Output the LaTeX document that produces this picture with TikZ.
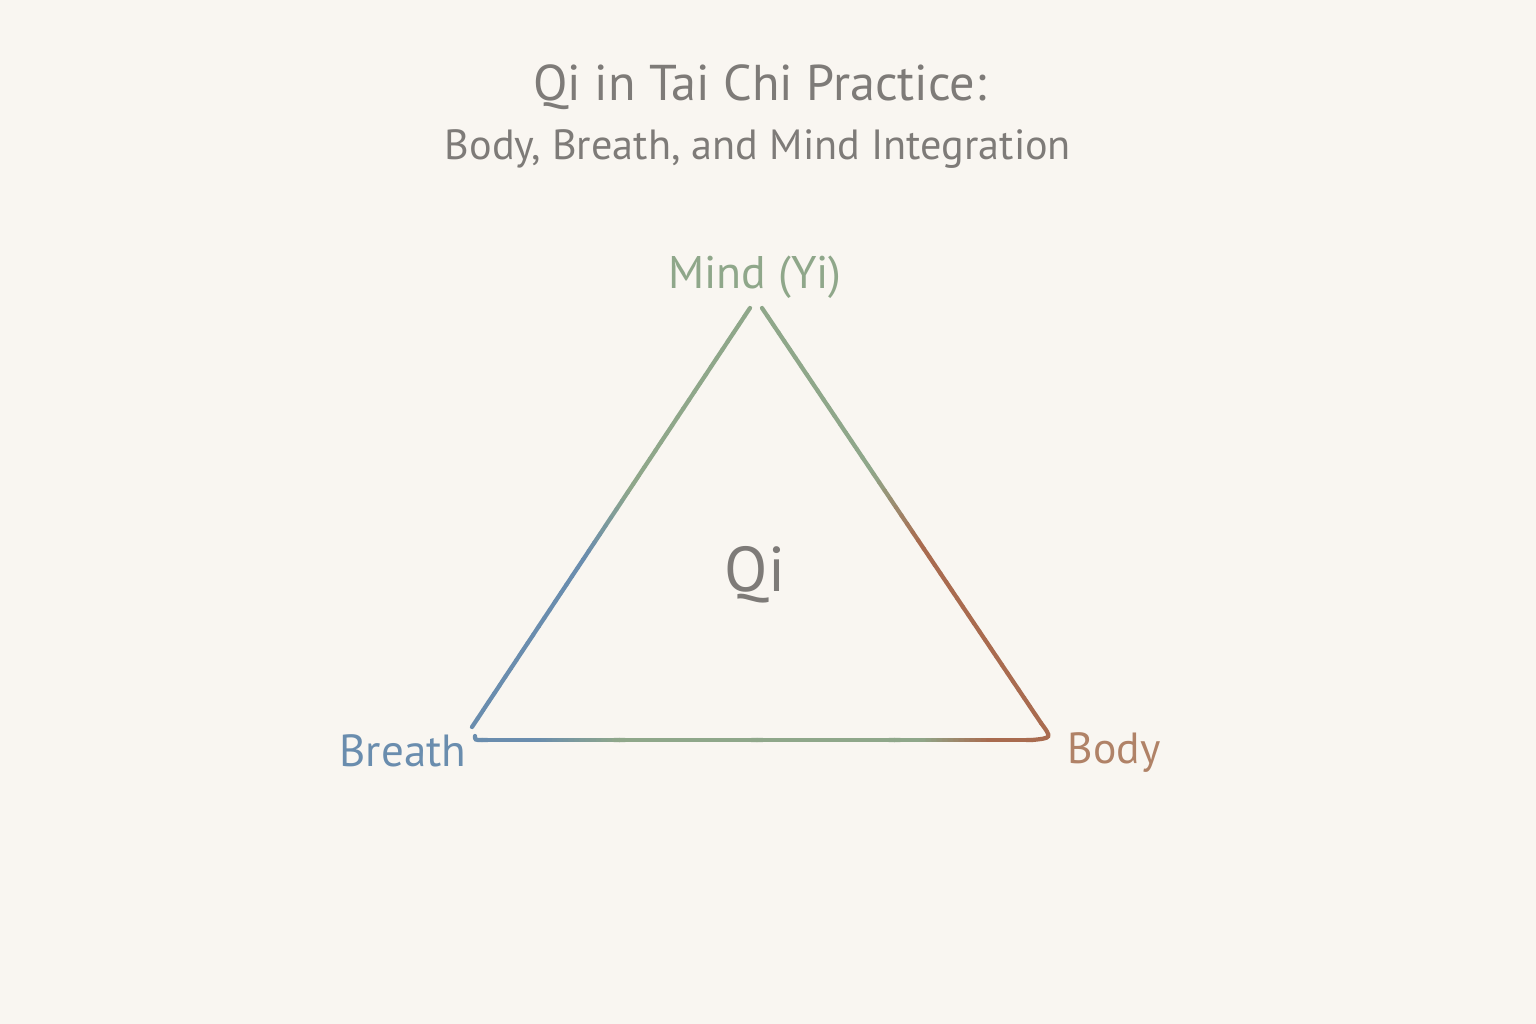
\documentclass[tikz,border=0pt]{standalone}
\usepackage{fontspec}
\setmainfont{PT Sans}
\usetikzlibrary{calc}
\definecolor{paper}{HTML}{F9F6F1}
\definecolor{inkgray}{HTML}{7E7B78}
\definecolor{mindc}{HTML}{8FA78A}
\definecolor{breathc}{HTML}{6A8DAE}
\definecolor{bodyc}{HTML}{A96B4F}
\definecolor{bodytxt}{HTML}{B08267}
\tikzset{edge/.style={line width=1.2pt, line cap=round},
         label/.style={font=\fontsize{13}{16}\selectfont}}
\begin{document}
\begin{tikzpicture}[x=0.01cm, y=-0.01cm]
\fill[paper] (0,0) rectangle (1536,1024);
\node[inkgray, font=\fontsize{14.3}{17}\selectfont] (title) at (760,87) {Qi in Tai Chi Practice:};
\node[inkgray, font=\fontsize{12}{15}\selectfont] (sub) at (758,149) {Body, Breath, and Mind Integration};
\node[label, mindc] (mind) at (755,277) {Mind (Yi)};
\node[inkgray, font=\fontsize{18}{20}\selectfont] (qi) at (755,575) {Qi};
\node[label, breathc, font=\fontsize{12.8}{15}\selectfont] (breath) at (403,751) {Breath};
\node[label, bodytxt, font=\fontsize{12.4}{15}\selectfont] (body) at (1114,753) {Body};
\coordinate (m1) at (750,308);
\coordinate (b1) at (472,727);
\coordinate (m2) at (762,308);
\coordinate (d1) at (1041,723);
\coordinate (d2) at (1032,740);
\coordinate (mid) at (757,740);
\coordinate (b2) at (482,740);
\coordinate (hook) at (475,736);
\foreach \i in {0,...,49} {
  \pgfmathsetmacro\ta{\i/50}
  \pgfmathsetmacro\tb{(\i+1)/50}
  \pgfmathtruncatemacro\p{max(0,min(100,(0.6-\ta-0.01)/0.17*100))}
  \draw[edge, draw=mindc!\p!breathc] ($(m1)!\ta!(b1)$) -- ($(m1)!\tb!(b1)$);
  \pgfmathtruncatemacro\q{max(0,min(100,(0.57-\ta-0.01)/0.17*100))}
  \draw[edge, draw=mindc!\q!bodyc] ($(m2)!\ta!(d1)$) -- ($(m2)!\tb!(d1)$);
  \pgfmathtruncatemacro\r{max(0,min(100,(\ta+0.01-0.2)/0.3*100))}
  \draw[edge, draw=mindc!\r!breathc] ($(b2)!\ta!(mid)$) -- ($(b2)!\tb!(mid)$);
  \pgfmathtruncatemacro\s{max(0,min(100,(0.85-\ta-0.01)/0.25*100))}
  \draw[edge, draw=mindc!\s!bodyc] ($(mid)!\ta!(d2)$) -- ($(mid)!\tb!(d2)$);
}
\draw[edge, bodyc] (d1) .. controls (1052,738) .. (d2);
\draw[edge, breathc] (b2) .. controls (475,740) .. (hook);
\end{tikzpicture}
\end{document}
